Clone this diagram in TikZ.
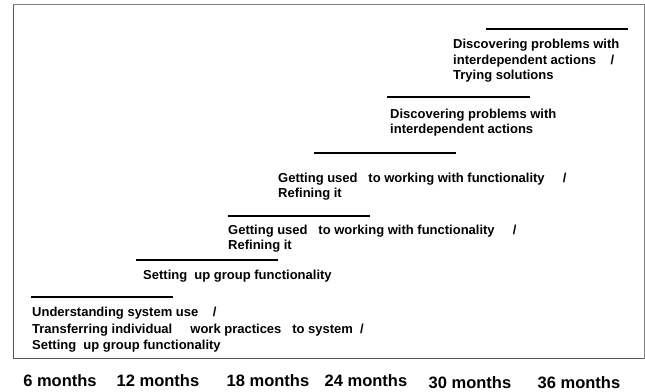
\documentclass[tikz,border=0pt]{standalone}
\usepackage{fontspec}
\setmainfont{Liberation Sans}
\usetikzlibrary{positioning}
\definecolor{frgray}{HTML}{555555}

\tikzset{
  phaseline/.style={black,line width=2.6pt},
  phasetext/.style={anchor=north west,inner sep=0pt,align=left,
    font=\fontsize{13}{15.6}\selectfont\bfseries},
  monthlabel/.style={anchor=base,inner sep=0pt,
    font=\fontsize{16.5}{18}\selectfont\bfseries}
}

\begin{document}
\begin{tikzpicture}[x=1pt,y=-1pt]

  \useasboundingbox (0,0) rectangle (645,391);

  % =====================================================================
  % 1. FRAME
  % =====================================================================
  \draw[gray,line width=0.8pt] (13.5,4.5) rectangle (644,358.5);
  \draw[frgray,line width=1.6pt] (13.5,4.5) -- (13.5,358.5) -- (644,358.5);

  % =====================================================================
  % 2. PHASES (line + description)
  % =====================================================================
  \draw[phaseline] (31,297) -- (173,297);
  \node[phasetext,font=\fontsize{13}{16.5}\selectfont\bfseries] (understand) at (32,307)
        {Understanding system use\ \ \ \ /\\
         Transferring individual\ \ \ \ \ work practices\ \ \ to system\ \ /\\
         Setting\ \ up group functionality};

  \draw[phaseline] (136,260) -- (278,260);
  \node[phasetext] (groupfunc) at (143,270)
        {Setting\ \ up group functionality};

  \draw[phaseline] (228,216) -- (370,216);
  \node[phasetext] (gettingone) at (228,224.5)
        {Getting used\ \ \ to working with functionality\ \ \ \ \ /\\
         Refining it};

  \draw[phaseline] (314,153) -- (456,153);
  \node[phasetext] (gettingtwo) at (278,172.5)
        {Getting used\ \ \ to working with functionality\ \ \ \ \ /\\
         Refining it};

  \draw[phaseline] (387,97) -- (530,97);
  \node[phasetext] (discoverone) at (390,108.5)
        {Discovering problems with\\
         interdependent actions};

  \draw[phaseline] (486,29) -- (628,29);
  \node[phasetext] (discovertwo) at (453,39)
        {Discovering problems with\\
         interdependent actions\ \ \ \ /\\
         Trying solutions};

  % =====================================================================
  % 3. TIME AXIS LABELS
  % =====================================================================
  \node[monthlabel] (msix)      at (60,386)  {6 months};
  \node[monthlabel] (mtwelve)   at (158,386) {12 months};
  \node[monthlabel] (meighteen) at (268,386) {18 months};
  \node[monthlabel] (mtwentyf)  at (366,386) {24 months};
  \node[monthlabel] (mthirty)   at (470,388) {30 months};
  \node[monthlabel] (mthirtys)  at (579,388) {36 months};

\end{tikzpicture}
\end{document}
